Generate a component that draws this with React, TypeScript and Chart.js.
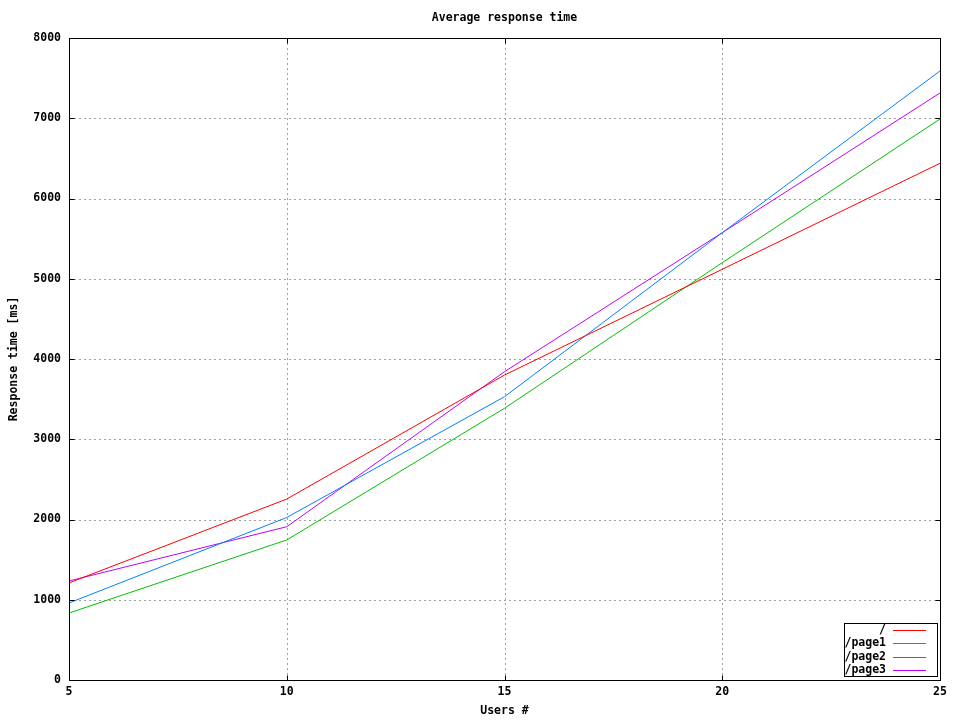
import React, { useEffect, useRef } from "react";
import { Chart, registerables } from "chart.js";

Chart.register(...registerables);

const users = [5, 10, 15, 20, 25];
const rootSeries = [1210, 2255, 3800, 5118, 6439];
const page1Series = [835, 1745, 3386, 5200, 6991];
const page2Series = [960, 2025, 3530, 5574, 7589];
const page3Series = [1234, 1910, 3842, 5574, 7315];
const seriesLabels = ["/", "/page1", "/page2", "/page3"];
const seriesColors = ["#ff0000", "#00c000", "#0080ff", "#c000ff"];
const xTicks = [5, 10, 15, 20, 25];
const yTicks = [0, 1000, 2000, 3000, 4000, 5000, 6000, 7000, 8000];
const chartTitle = "Average response time";
const xTitle = "Users #";
const yTitle = "Response time [ms]";

const FONT = 'bold 11.5px "DejaVu Sans Mono"';

const gnuplotPlugin = {
  id: "gnuplotDecor",
  beforeDatasetsDraw(chart: any) {
    const { ctx, chartArea: a, scales } = chart;
    ctx.save();
    ctx.strokeStyle = "#a0a0a0";
    ctx.lineWidth = 1;
    ctx.setLineDash([2, 3]);
    for (const v of xTicks) {
      const x = Math.round(scales.x.getPixelForValue(v)) + 0.5;
      if (Math.abs(x - a.left) < 2 || Math.abs(x - a.right) < 2) continue;
      ctx.beginPath();
      ctx.moveTo(x, a.top);
      ctx.lineTo(x, a.bottom);
      ctx.stroke();
    }
    for (const v of yTicks) {
      const y = Math.round(scales.y.getPixelForValue(v)) + 0.5;
      if (Math.abs(y - a.top) < 2 || Math.abs(y - a.bottom) < 2) continue;
      ctx.beginPath();
      ctx.moveTo(a.left, y);
      ctx.lineTo(a.right, y);
      ctx.stroke();
    }
    ctx.restore();
  },
  afterDraw(chart: any) {
    const { ctx, chartArea: a, scales } = chart;
    ctx.save();
    ctx.strokeStyle = "#000";
    ctx.lineWidth = 1;
    ctx.setLineDash([]);
    const L = Math.round(a.left) + 0.5;
    const R = Math.round(a.right) + 0.5;
    const T = Math.round(a.top) + 0.5;
    const B = Math.round(a.bottom) + 0.5;
    ctx.strokeRect(L, T, R - L, B - T);
    ctx.beginPath();
    for (const v of xTicks) {
      const x = Math.round(scales.x.getPixelForValue(v)) + 0.5;
      ctx.moveTo(x, B);
      ctx.lineTo(x, B - 5);
      ctx.moveTo(x, T);
      ctx.lineTo(x, T + 5);
    }
    for (const v of yTicks) {
      const y = Math.round(scales.y.getPixelForValue(v)) + 0.5;
      ctx.moveTo(L, y);
      ctx.lineTo(L + 5, y);
      ctx.moveTo(R, y);
      ctx.lineTo(R - 5, y);
    }
    ctx.stroke();

    ctx.fillStyle = "#000";
    ctx.font = FONT;
    ctx.textAlign = "center";
    ctx.textBaseline = "middle";
    const cx = (a.left + a.right) / 2;
    ctx.fillText(chartTitle, cx, 18);
    ctx.fillText(xTitle, cx, 711);
    ctx.save();
    ctx.translate(14, (a.top + a.bottom) / 2);
    ctx.rotate(-Math.PI / 2);
    ctx.fillText(yTitle, 0, 0);
    ctx.restore();

    const bx = 844.5, by = 623.5, bw = 93, bh = 53;
    ctx.fillStyle = "#fff";
    ctx.fillRect(bx, by, bw, bh);
    ctx.strokeStyle = "#000";
    ctx.strokeRect(bx, by, bw, bh);
    const rows = [630, 643, 657, 670];
    chart.data.datasets.forEach((ds: any, i: number) => {
      const y = rows[i];
      ctx.fillStyle = "#000";
      ctx.textAlign = "right";
      ctx.textBaseline = "middle";
      ctx.font = FONT;
      ctx.fillText(ds.label, 886, y);
      ctx.strokeStyle = ds.borderColor;
      ctx.beginPath();
      ctx.moveTo(893, y + 0.5);
      ctx.lineTo(926, y + 0.5);
      ctx.stroke();
    });
    ctx.restore();
  },
};

export default function App() {
  const ref = useRef<HTMLCanvasElement | null>(null);
  useEffect(() => {
    if (!ref.current) return;
    const seriesValues = [rootSeries, page1Series, page2Series, page3Series];
    const chart = new Chart(ref.current, {
      type: "line",
      data: {
        datasets: seriesValues.map((vals, i) => ({
          label: seriesLabels[i],
          data: users.map((u, j) => ({ x: u, y: vals[j] })),
          borderColor: seriesColors[i],
          backgroundColor: seriesColors[i],
          borderWidth: 1,
          pointRadius: 0,
          tension: 0,
          fill: false,
        })),
      },
      options: {
        animation: false,
        responsive: false,
        devicePixelRatio: 1,
        layout: { padding: { top: 38, right: 20, left: 0, bottom: 0 } },
        plugins: {
          legend: { display: false },
          title: { display: false },
          tooltip: { enabled: false },
        },
        scales: {
          x: {
            type: "linear",
            min: 5,
            max: 25,
            grid: { display: false, drawTicks: false },
            border: { display: false },
            ticks: {
              stepSize: 5,
              padding: 5,
              color: "#000",
              font: { family: "DejaVu Sans Mono", size: 11.5, weight: "bold" },
              maxRotation: 0,
              callback: (v: any) => String(v),
            },
            afterFit: (s: any) => {
              s.height = 40;
            },
          },
          y: {
            type: "linear",
            min: 0,
            max: 8000,
            grid: { display: false, drawTicks: false },
            border: { display: false },
            ticks: {
              stepSize: 1000,
              padding: 8,
              color: "#000",
              font: { family: "DejaVu Sans Mono", size: 11.5, weight: "bold" },
              callback: (v: any) => String(v),
            },
            afterFit: (s: any) => {
              s.width = 69;
            },
          },
        },
      },
      plugins: [gnuplotPlugin],
    });
    return () => chart.destroy();
  }, []);
  return (
    <div style={{ position: "absolute", left: 0, top: 0, width: 960, height: 720, background: "#fff" }}>
      <canvas ref={ref} width={960} height={720} />
    </div>
  );
}
